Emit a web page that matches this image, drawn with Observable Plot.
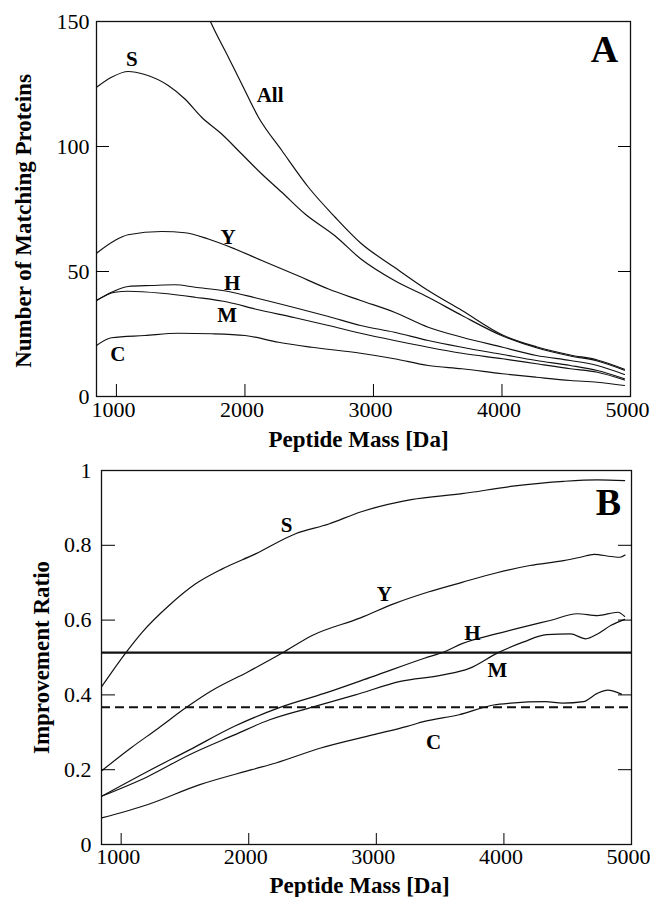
<!DOCTYPE html>
<html><head><meta charset="utf-8">
<script src="https://cdn.jsdelivr.net/npm/d3@7"></script>
<script src="https://cdn.jsdelivr.net/npm/@observablehq/plot@0.6"></script>
<style>
body{margin:0;background:#fff}
#chart svg{display:block}
</style>
</head><body><div id="chart"></div>
<script>
// ---------- Panel A: Number of Matching Proteins ----------
const countAll = [[1600,167],[1728,150.4],[1871,135.7],[1975,125],[2105,111.7],[2287,98.4],[2494,83.7],[2702,71.7],[2900,61.4],[3163,51.7],[3426,42.4],[3689,34.4],[4005,24.6],[4268,19.9],[4532,16.6],[4742,14.6],[4953,10.9]];
const countS = [[845,123.7],[962,127.7],[1091,130],[1221,128.8],[1403,124.4],[1533,119],[1663,111.7],[1819,105],[1975,97],[2131,89],[2287,81.7],[2468,73],[2700,64.3],[2900,55.1],[3163,46.4],[3426,39.7],[3689,32.4],[4005,24.2],[4268,19.5],[4532,16.2],[4742,14.2],[4953,10.5]];
const countY = [[845,57.3],[988,62.4],[1091,64.7],[1352,66],[1533,65.5],[1715,63],[1923,59],[2131,54.4],[2390,48.8],[2650,43],[2900,38.4],[3163,33.7],[3426,27.7],[3689,23.7],[4005,19.7],[4268,16.4],[4532,14.4],[4742,12.4],[4953,8.8]];
const countH = [[845,38.4],[962,41.7],[1091,44],[1274,44.4],[1455,44.7],[1611,43.7],[1871,42],[2079,39.5],[2390,35.5],[2650,32],[2900,28.4],[3163,25.7],[3426,22.4],[3689,19.7],[4005,16.8],[4268,14.4],[4532,12.4],[4742,10.4],[4953,7.1]];
const countM = [[845,38.4],[988,41.7],[1091,42.1],[1352,41.3],[1611,39.7],[1871,37.7],[2079,35],[2390,31.5],[2650,28.4],[2900,25.3],[3163,22.4],[3426,19.7],[3689,17.3],[4005,15.1],[4268,13.1],[4532,11.1],[4742,9.7],[4953,6.6]];
const countC = [[845,20.4],[962,23.5],[1221,24.4],[1481,25.3],[1741,25.1],[2001,24.4],[2261,21.7],[2521,19.7],[2900,17.3],[3163,15.1],[3426,12.4],[3689,11.1],[4005,9.1],[4268,7.7],[4532,6.4],[4742,5.7],[4953,4.4]];
const labelsA = [["S",1120,135],["All",2196,120.4],["Y",1868,63.6],["H",1900,45.2],["M",1861,32.4],["C",1011,16.8]];

// ---------- Panel B: Improvement Ratio ----------
const ratioS = [[847,0.422],[1036,0.5125],[1166,0.568],[1375,0.639],[1584,0.697],[1793,0.737],[2053,0.777],[2367,0.831],[2628,0.857],[2876,0.889],[3273,0.922],[3672,0.938],[4070,0.958],[4468,0.971],[4734,0.975],[4946,0.973]];
const ratioY = [[847,0.197],[1076,0.258],[1292,0.311],[1509,0.366],[1699,0.409],[1996,0.462],[2262,0.512],[2497,0.559],[2876,0.606],[3141,0.644],[3407,0.675],[3672,0.701],[3938,0.726],[4203,0.746],[4468,0.759],[4600,0.768],[4707,0.776],[4840,0.770],[4910,0.768],[4950,0.774]];
const ratioH = [[847,0.129],[1211,0.196],[1536,0.253],[1888,0.316],[2240,0.366],[2592,0.404],[2971,0.449],[3377,0.498],[3539,0.516],[3672,0.537],[3938,0.563],[4203,0.586],[4362,0.599],[4575,0.617],[4734,0.612],[4893,0.621],[4946,0.610]];
const ratioM = [[847,0.129],[1211,0.182],[1536,0.240],[1888,0.293],[2159,0.333],[2484,0.366],[2836,0.400],[3188,0.436],[3513,0.453],[3729,0.471],[3955,0.513],[4150,0.541],[4335,0.561],[4522,0.563],[4641,0.550],[4734,0.563],[4840,0.586],[4946,0.602]];
const ratioC = [[847,0.071],[1211,0.107],[1617,0.160],[2024,0.200],[2213,0.218],[2565,0.258],[2971,0.293],[3242,0.316],[3377,0.329],[3648,0.347],[3919,0.373],[4054,0.378],[4325,0.382],[4460,0.378],[4623,0.382],[4731,0.404],[4813,0.413],[4921,0.402]];
const refSolid = [0.513];
const refDashed = [0.367];
const labelsB = [["S",2296,0.853],["Y",3063,0.668],["H",3753,0.564],["M",3949,0.465],["C",3448,0.273]];

// ---------- ticks ----------
const xTickLabels = [1000,2000,3000,4000,5000];
const xTickMarks = [1000,2000,3000,4000];
const yTickLabelsA = [0,50,100,150];
const yTickMarksA = [50,100];
const yTickLabelsB = [0,0.2,0.4,0.6,0.8,1];
const yTickMarksB = [0.2,0.4,0.6,0.8];

const FONT = "Liberation Serif, Times New Roman, serif";
const toRows = (name, arr) => arr.map(([x,y]) => ({name, x, y}));

const tableA = [
  ...toRows("All", countAll), ...toRows("S", countS), ...toRows("Y", countY),
  ...toRows("H", countH), ...toRows("M", countM), ...toRows("C", countC)
];
const tableB = [
  ...toRows("S", ratioS), ...toRows("Y", ratioY), ...toRows("H", ratioH),
  ...toRows("M", ratioM), ...toRows("C", ratioC)
];

const plotA = Plot.plot({
  width: 650, height: 454,
  marginTop: 21, marginBottom: 58, marginLeft: 96, marginRight: 20,
  style: {fontFamily: FONT, fontSize: "22px", background: "#fff", color: "#000"},
  x: {domain: [845, 5000]},
  y: {domain: [0, 150]},
  marks: [
    Plot.line(tableA, {x: "x", y: "y", z: "name", stroke: "#111", strokeWidth: 1.2, curve: "monotone-x", clip: true}),
    Plot.frame({stroke: "#111", strokeWidth: 1.3}),
    Plot.axisX({ticks: xTickLabels, tickSize: 0, tickPadding: 5, dx: -3, tickFormat: d => String(d), fontSize: 22, label: null}),
    Plot.axisX({ticks: xTickMarks, tickSize: -12, text: null, label: null}),
    Plot.axisY({ticks: yTickLabelsA, tickSize: 0, tickPadding: 7, tickFormat: d => String(d), fontSize: 22, label: null}),
    Plot.axisY({ticks: yTickMarksA, tickSize: -13, text: null, label: null}),
    Plot.axisY({anchor: "right", ticks: yTickMarksA, tickSize: -13, text: null, label: null}),
    Plot.text(labelsA, {x: d => d[1], y: d => d[2], text: d => d[0], fontWeight: "bold", fontSize: 21}),
    Plot.text(["A"], {frameAnchor: "top-right", dx: -26, dy: 28, textAnchor: "middle", lineAnchor: "middle", fontWeight: "bold", fontSize: 38}),
    Plot.text(["Peptide Mass [Da]"], {frameAnchor: "bottom", dx: -5, dy: 43, textAnchor: "middle", lineAnchor: "middle", fontWeight: "bold", fontSize: 23}),
    Plot.text(["Number of Matching Proteins"], {frameAnchor: "left", rotate: -90, dx: -73, dy: 12, textAnchor: "middle", lineAnchor: "middle", fontWeight: "bold", fontSize: 23})
  ]
});

const plotB = Plot.plot({
  width: 650, height: 443,
  marginTop: 16, marginBottom: 53, marginLeft: 101, marginRight: 19,
  style: {fontFamily: FONT, fontSize: "22px", background: "#fff", color: "#000"},
  x: {domain: [846, 5000]},
  y: {domain: [0, 1]},
  marks: [
    Plot.ruleY(refSolid, {stroke: "#111", strokeWidth: 2.2}),
    Plot.ruleY(refDashed, {stroke: "#111", strokeWidth: 2, strokeDasharray: "9,5"}),
    Plot.line(tableB, {x: "x", y: "y", z: "name", stroke: "#111", strokeWidth: 1.2, curve: "monotone-x", clip: true}),
    Plot.frame({stroke: "#111", strokeWidth: 1.3}),
    Plot.axisX({ticks: xTickLabels, tickSize: 0, tickPadding: 4, dx: -3, tickFormat: d => String(d), fontSize: 22, label: null}),
    Plot.axisX({ticks: xTickMarks, tickSize: -11, text: null, label: null}),
    Plot.axisY({ticks: yTickLabelsB, tickSize: 0, tickPadding: 10, tickFormat: d => (d === 0 || d === 1) ? String(d) : d.toFixed(1), fontSize: 22, label: null}),
    Plot.axisY({ticks: yTickMarksB, tickSize: -14, text: null, label: null}),
    Plot.axisY({anchor: "right", ticks: yTickMarksB, tickSize: -14, text: null, label: null}),
    Plot.text(labelsB, {x: d => d[1], y: d => d[2], text: d => d[0], fontWeight: "bold", fontSize: 21}),
    Plot.text(["B"], {frameAnchor: "top-right", dx: -23, dy: 32, textAnchor: "middle", lineAnchor: "middle", fontWeight: "bold", fontSize: 38}),
    Plot.text(["Peptide Mass [Da]"], {frameAnchor: "bottom", dx: -7, dy: 41, textAnchor: "middle", lineAnchor: "middle", fontWeight: "bold", fontSize: 23}),
    Plot.text(["Improvement Ratio"], {frameAnchor: "left", rotate: -90, dx: -60, dy: 0, textAnchor: "middle", lineAnchor: "middle", fontWeight: "bold", fontSize: 23})
  ]
});

const chart = document.getElementById("chart");
chart.appendChild(plotA);
chart.appendChild(plotB);
</script></body></html>
